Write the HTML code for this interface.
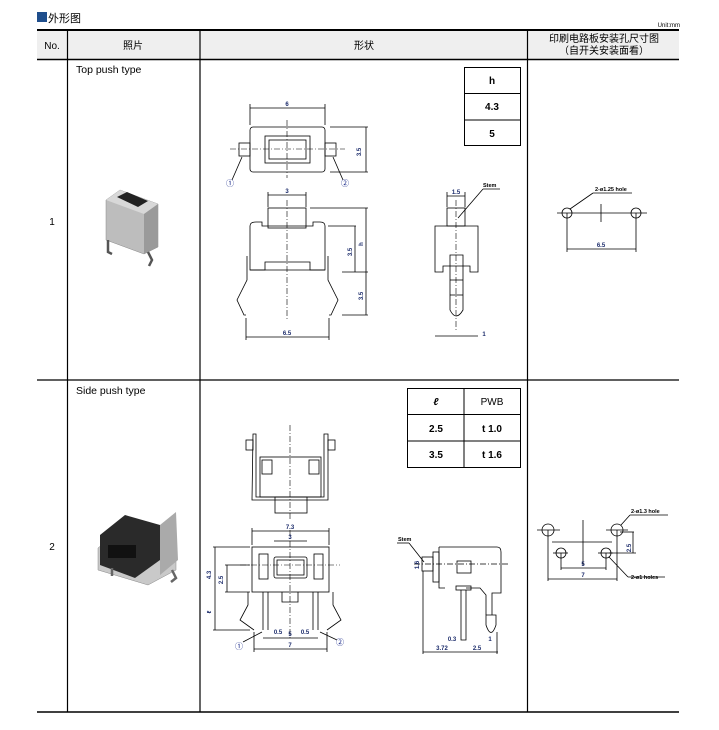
<!DOCTYPE html>
<html><head><meta charset="utf-8"><style>
html,body{margin:0;padding:0;background:#fff;}
svg{display:block;}
text{font-family:"Liberation Sans","Noto Sans CJK SC",sans-serif;}
</style></head><body>
<svg width="719" height="730" viewBox="0 0 719 730" xmlns="http://www.w3.org/2000/svg">
<rect x="37" y="12" width="10" height="10" fill="#1f4e8c"/>
<text x="48" y="22" font-size="11" fill="#000">外形图</text>
<text x="680" y="27" font-size="6" text-anchor="end" fill="#000">Unit:mm</text>
<rect x="37" y="30" width="642" height="29" fill="#efefef"/>
<line x1="37" y1="30" x2="679" y2="30" stroke="#000" stroke-width="2"/>
<line x1="37" y1="59.5" x2="679" y2="59.5" stroke="#000" stroke-width="1.5"/>
<line x1="37" y1="380" x2="679" y2="380" stroke="#000" stroke-width="1.3"/>
<line x1="37" y1="712" x2="679" y2="712" stroke="#000" stroke-width="1.5"/>
<g stroke="#000" stroke-width="1.2">
<line x1="67.5" y1="30" x2="67.5" y2="712"/>
<line x1="200" y1="30" x2="200" y2="712"/>
<line x1="527.5" y1="30" x2="527.5" y2="712"/>
</g>
<g font-size="10" fill="#000" text-anchor="middle">
<text x="52" y="49">No.</text>
<text x="133" y="49">照片</text>
<text x="364" y="49">形状</text>
<text x="604" y="42">印刷电路板安装孔尺寸图</text>
<text x="604" y="54">（自开关安装面看）</text>
<text x="52" y="225">1</text>
<text x="52" y="550">2</text>
</g>
<text x="76" y="73" font-size="10.5">Top push type</text>
<text x="76" y="394" font-size="10.5">Side push type</text>

<!-- photo 1 -->
<g>
<polygon points="106,200 120,190 158,204 158,247 144,254 106,240" fill="#bdbdbd" stroke="#888" stroke-width="0.5"/>
<polygon points="106,200 120,190 158,204 144,214" fill="#d8d8d8"/>
<polygon points="144,214 158,204 158,247 144,254" fill="#9a9a9a"/>
<polygon points="117,197 127,192 148,201 138,207" fill="#222"/>
<path d="M108,240 l0,12 l4,2 M148,252 l4,8 l-3,6" stroke="#555" stroke-width="2.5" fill="none"/>
</g>
<!-- photo 2 -->
<g>
<polygon points="98,548 128,523 176,533 176,570 148,585 98,570" fill="#c9c9c9" stroke="#888" stroke-width="0.5"/>
<polygon points="100,535 125,515 160,525 160,560 135,578 100,565" fill="#2a2a2a"/>
<rect x="108" y="545" width="28" height="13" fill="#111"/>
<polygon points="160,525 176,512 178,560 160,575" fill="#aaa"/>
<path d="M172,570 l4,8 l-5,4 M112,568 l0,8" stroke="#666" stroke-width="2.5" fill="none"/>
</g>

<!-- tables -->
<g stroke="#000" stroke-width="1" fill="none">
<rect x="464.5" y="67.5" width="56" height="78"/>
<line x1="464" y1="93.5" x2="521" y2="93.5"/>
<line x1="464" y1="120" x2="521" y2="120"/>
<rect x="407.5" y="388.5" width="113" height="79"/>
<line x1="464" y1="388" x2="464" y2="468"/>
<line x1="407" y1="414.5" x2="521" y2="414.5"/>
<line x1="407" y1="441" x2="521" y2="441"/>
</g>
<g font-size="10" text-anchor="middle" fill="#000">
<text x="492" y="84" font-weight="bold">h</text>
<text x="492" y="110" font-weight="bold">4.3</text>
<text x="492" y="137" font-weight="bold">5</text>
<text x="436" y="405" font-style="italic" font-weight="bold">ℓ</text>
<text x="492" y="405">PWB</text>
<text x="436" y="432" font-weight="bold">2.5</text>
<text x="492" y="432" font-weight="bold">t 1.0</text>
<text x="436" y="458" font-weight="bold">3.5</text>
<text x="492" y="458" font-weight="bold">t 1.6</text>
</g>

<g stroke="#000" stroke-width="0.8" fill="none">
<!-- Row1 top view -->
<rect x="250" y="127" width="75" height="45" rx="3"/>
<rect x="265" y="136" width="45" height="27"/>
<rect x="269" y="140" width="37" height="19"/>
<rect x="239" y="143" width="11" height="13"/>
<rect x="325" y="143" width="11" height="13"/>
<line x1="250" y1="108" x2="325" y2="108"/><line x1="250" y1="104" x2="250" y2="125"/><line x1="325" y1="104" x2="325" y2="125"/>
<line x1="330" y1="127" x2="368" y2="127"/><line x1="330" y1="172" x2="368" y2="172"/><line x1="366" y1="127" x2="366" y2="172"/>
<line x1="242" y1="157" x2="232" y2="180"/><line x1="333" y1="157" x2="343" y2="180"/>
<!-- front -->
<rect x="268" y="208" width="38" height="20"/>
<path d="M250,270 L250,226 Q250,222 256,222 L262,222 L262,226 L313,226 L313,222 L320,222 Q325,222 325,226 L325,270 Z"/>
<path d="M250,270 L265,270 L265,262 L310,262 L310,270 L325,270"/>
<path d="M247,256 L247,280 L237,300 L244,315 L246,315 M328,256 L328,280 L338,300 L331,315 L329,315"/>
<line x1="268" y1="195" x2="306" y2="195"/><line x1="268" y1="192" x2="268" y2="207"/><line x1="306" y1="192" x2="306" y2="207"/>
<line x1="246" y1="337" x2="329" y2="337"/><line x1="246" y1="318" x2="246" y2="340"/><line x1="329" y1="318" x2="329" y2="340"/>
<line x1="310" y1="208" x2="368" y2="208"/><line x1="366" y1="208" x2="366" y2="315"/><line x1="342" y1="272" x2="368" y2="272"/><line x1="342" y1="315" x2="368" y2="315"/>
<line x1="328" y1="226" x2="356" y2="226"/><line x1="355" y1="226" x2="355" y2="272"/>
<!-- side -->
<rect x="447" y="208" width="18" height="18"/>
<path d="M435,272 L435,226 L478,226 L478,272 L470,272 L470,266 L443,266 L443,272 Z"/>
<path d="M450,255 L450,310 Q456,322 463,310 L463,255 Z"/>
<line x1="450" y1="280" x2="463" y2="280"/><line x1="450" y1="295" x2="463" y2="295"/>
<line x1="447" y1="196" x2="465" y2="196"/><line x1="447" y1="192" x2="447" y2="207"/><line x1="465" y1="192" x2="465" y2="207"/>
<line x1="458" y1="218" x2="483" y2="189"/><line x1="483" y1="189" x2="500" y2="189"/>
<line x1="435" y1="336" x2="478" y2="336"/>
<!-- PCB row1 -->
<circle cx="567" cy="213" r="5"/><circle cx="636" cy="213" r="5"/>
<line x1="557" y1="213" x2="647" y2="213"/><line x1="601" y1="204" x2="601" y2="222"/>
<line x1="567" y1="213" x2="567" y2="252"/><line x1="636" y1="213" x2="636" y2="252"/><line x1="567" y1="249" x2="636" y2="249"/>
<line x1="570" y1="209" x2="593" y2="193"/><line x1="593" y1="193" x2="632" y2="193"/>
<!-- Row2 top -->
<path d="M253,434 L256,434 L256,497 L324,497 L324,434 L328,434 L328,500 L252,500 Z"/>
<rect x="260" y="457" width="61" height="40"/>
<rect x="262" y="460" width="10" height="14"/><rect x="309" y="460" width="10" height="14"/>
<rect x="275" y="497" width="32" height="16"/>
<rect x="246" y="440" width="7" height="10"/><rect x="328" y="440" width="7" height="10"/>
<!-- Row2 front -->
<rect x="252" y="547" width="77" height="45"/>
<rect x="259" y="554" width="9" height="25"/><rect x="314" y="554" width="9" height="25"/>
<rect x="274" y="557" width="33" height="21" rx="2"/>
<rect x="277" y="560" width="27" height="15"/>
<path d="M282,592 L282,602 L298,602 L298,592"/>
<path d="M263,592 L263,630 M268,592 L268,630 M313,592 L313,630 M318,592 L318,630"/>
<path d="M248,592 L248,605 L240,620 L254,630 M333,592 L333,605 L341,620 L327,630"/>
<line x1="252" y1="531" x2="329" y2="531"/><line x1="252" y1="528" x2="252" y2="545"/><line x1="329" y1="528" x2="329" y2="545"/>
<line x1="274" y1="541" x2="307" y2="541"/>
<line x1="254" y1="649" x2="327" y2="649"/><line x1="254" y1="632" x2="254" y2="652"/><line x1="327" y1="632" x2="327" y2="652"/>
<line x1="263" y1="638" x2="318" y2="638"/>
<line x1="213" y1="547" x2="250" y2="547"/><line x1="215" y1="547" x2="215" y2="630"/><line x1="213" y1="630" x2="250" y2="630"/>
<line x1="225" y1="565" x2="250" y2="565"/><line x1="227" y1="565" x2="227" y2="592"/><line x1="225" y1="592" x2="250" y2="592"/>
<line x1="262" y1="632" x2="243" y2="642"/><line x1="320" y1="632" x2="337" y2="640"/>
<!-- Row2 side -->
<path d="M439,547 L497,547 Q501,547 501,552 L501,593 L492,593 L492,615"/>
<path d="M439,547 L439,588 L445,588"/>
<path d="M486,615 L486,595 L480,588 L466,588"/>
<rect x="433" y="552" width="6" height="30"/>
<rect x="422" y="557" width="11" height="14"/>
<rect x="457" y="561" width="14" height="12"/>
<rect x="456" y="586" width="15" height="4"/>
<path d="M461,590 L461,640 L466,640 L466,590"/>
<path d="M486,615 L486,625 Q491,640 496,625 L496,615 Z"/>
<line x1="414" y1="564" x2="510" y2="564" stroke-dasharray="6,2,1,2"/>
<line x1="423" y1="571" x2="423" y2="654"/>
<line x1="423" y1="652" x2="498" y2="652"/>
<line x1="497" y1="632" x2="497" y2="654"/>
<line x1="397" y1="543" x2="409" y2="543"/><line x1="409" y1="543" x2="424" y2="562"/>
<!-- PCB row2 -->
<circle cx="548" cy="530" r="6"/><circle cx="617" cy="530" r="6"/>
<circle cx="561" cy="553" r="5"/><circle cx="606" cy="553" r="5"/>
<line x1="537" y1="530" x2="560" y2="530"/><line x1="606" y1="530" x2="628" y2="530"/>
<line x1="553" y1="553" x2="568" y2="553"/><line x1="598" y1="553" x2="613" y2="553"/>
<line x1="552" y1="542" x2="612" y2="542"/><line x1="583" y1="520" x2="583" y2="565"/>
<line x1="548" y1="530" x2="548" y2="581"/><line x1="617" y1="530" x2="617" y2="581"/><line x1="548" y1="579" x2="617" y2="579"/>
<line x1="561" y1="553" x2="561" y2="570"/><line x1="606" y1="553" x2="606" y2="570"/><line x1="561" y1="568" x2="606" y2="568"/>
<line x1="620" y1="532" x2="634" y2="532"/><line x1="633" y1="532" x2="633" y2="553"/><line x1="609" y1="553" x2="636" y2="553"/>
<line x1="621" y1="525" x2="630" y2="515"/><line x1="630" y1="515" x2="668" y2="515"/>
<line x1="609" y1="557" x2="628" y2="577"/><line x1="628" y1="577" x2="665" y2="577"/>
</g>
<g stroke="#000" stroke-width="0.6" stroke-dasharray="6,2,1,2" fill="none">
<line x1="230" y1="149" x2="345" y2="149"/><line x1="287" y1="120" x2="287" y2="178"/>
<line x1="287" y1="200" x2="287" y2="320"/><line x1="456" y1="200" x2="456" y2="330"/>
<line x1="290" y1="425" x2="290" y2="520"/><line x1="290" y1="530" x2="290" y2="640"/>
<line x1="240" y1="565" x2="340" y2="565"/>
</g>
<g font-size="6" fill="#1a2a6a" text-anchor="middle" font-weight="bold">
<text x="287" y="106">6</text><text x="287" y="193">3</text><text x="287" y="335">6.5</text>
<text x="361" y="152" transform="rotate(-90 361 152)">3.5</text>
<text x="352" y="252" transform="rotate(-90 352 252)">3.5</text>
<text x="363" y="244" transform="rotate(-90 363 244)">h</text>
<text x="363" y="296" transform="rotate(-90 363 296)">3.5</text>
<text x="456" y="194">1.5</text><text x="484" y="336">1</text>
<text x="601" y="247">6.5</text>
<text x="290" y="529">7.3</text><text x="290" y="539">3</text><text x="290" y="647">7</text><text x="290" y="636">5</text>
<text x="278" y="634">0.5</text><text x="305" y="634">0.5</text>
<text x="211" y="575" transform="rotate(-90 211 575)">4.3</text>
<text x="223" y="580" transform="rotate(-90 223 580)">2.5</text>
<text x="211" y="612" transform="rotate(-90 211 612)">ℓ</text>
<text x="419" y="565" transform="rotate(-90 419 565)">1.6</text>
<text x="442" y="650">3.72</text><text x="477" y="650">2.5</text><text x="452" y="641">0.3</text><text x="490" y="641">1</text>
<text x="583" y="577">7</text><text x="583" y="566">5</text>
<text x="631" y="548" transform="rotate(-90 631 548)">2.5</text>
</g>
<g font-size="5.5" fill="#000" font-weight="bold">
<text x="483" y="187">Stem</text><text x="398" y="541">Stem</text>
<text x="595" y="191">2-ø1.25 hole</text>
<text x="631" y="513">2-ø1.3 hole</text>
<text x="631" y="579">2-ø1 holes</text>
</g>
<g font-size="8" fill="#1a2a8a" text-anchor="middle">
<text x="230" y="186">①</text><text x="345" y="186">②</text>
<text x="239" y="649">①</text><text x="340" y="645">②</text>
</g>
</svg>
</body></html>
